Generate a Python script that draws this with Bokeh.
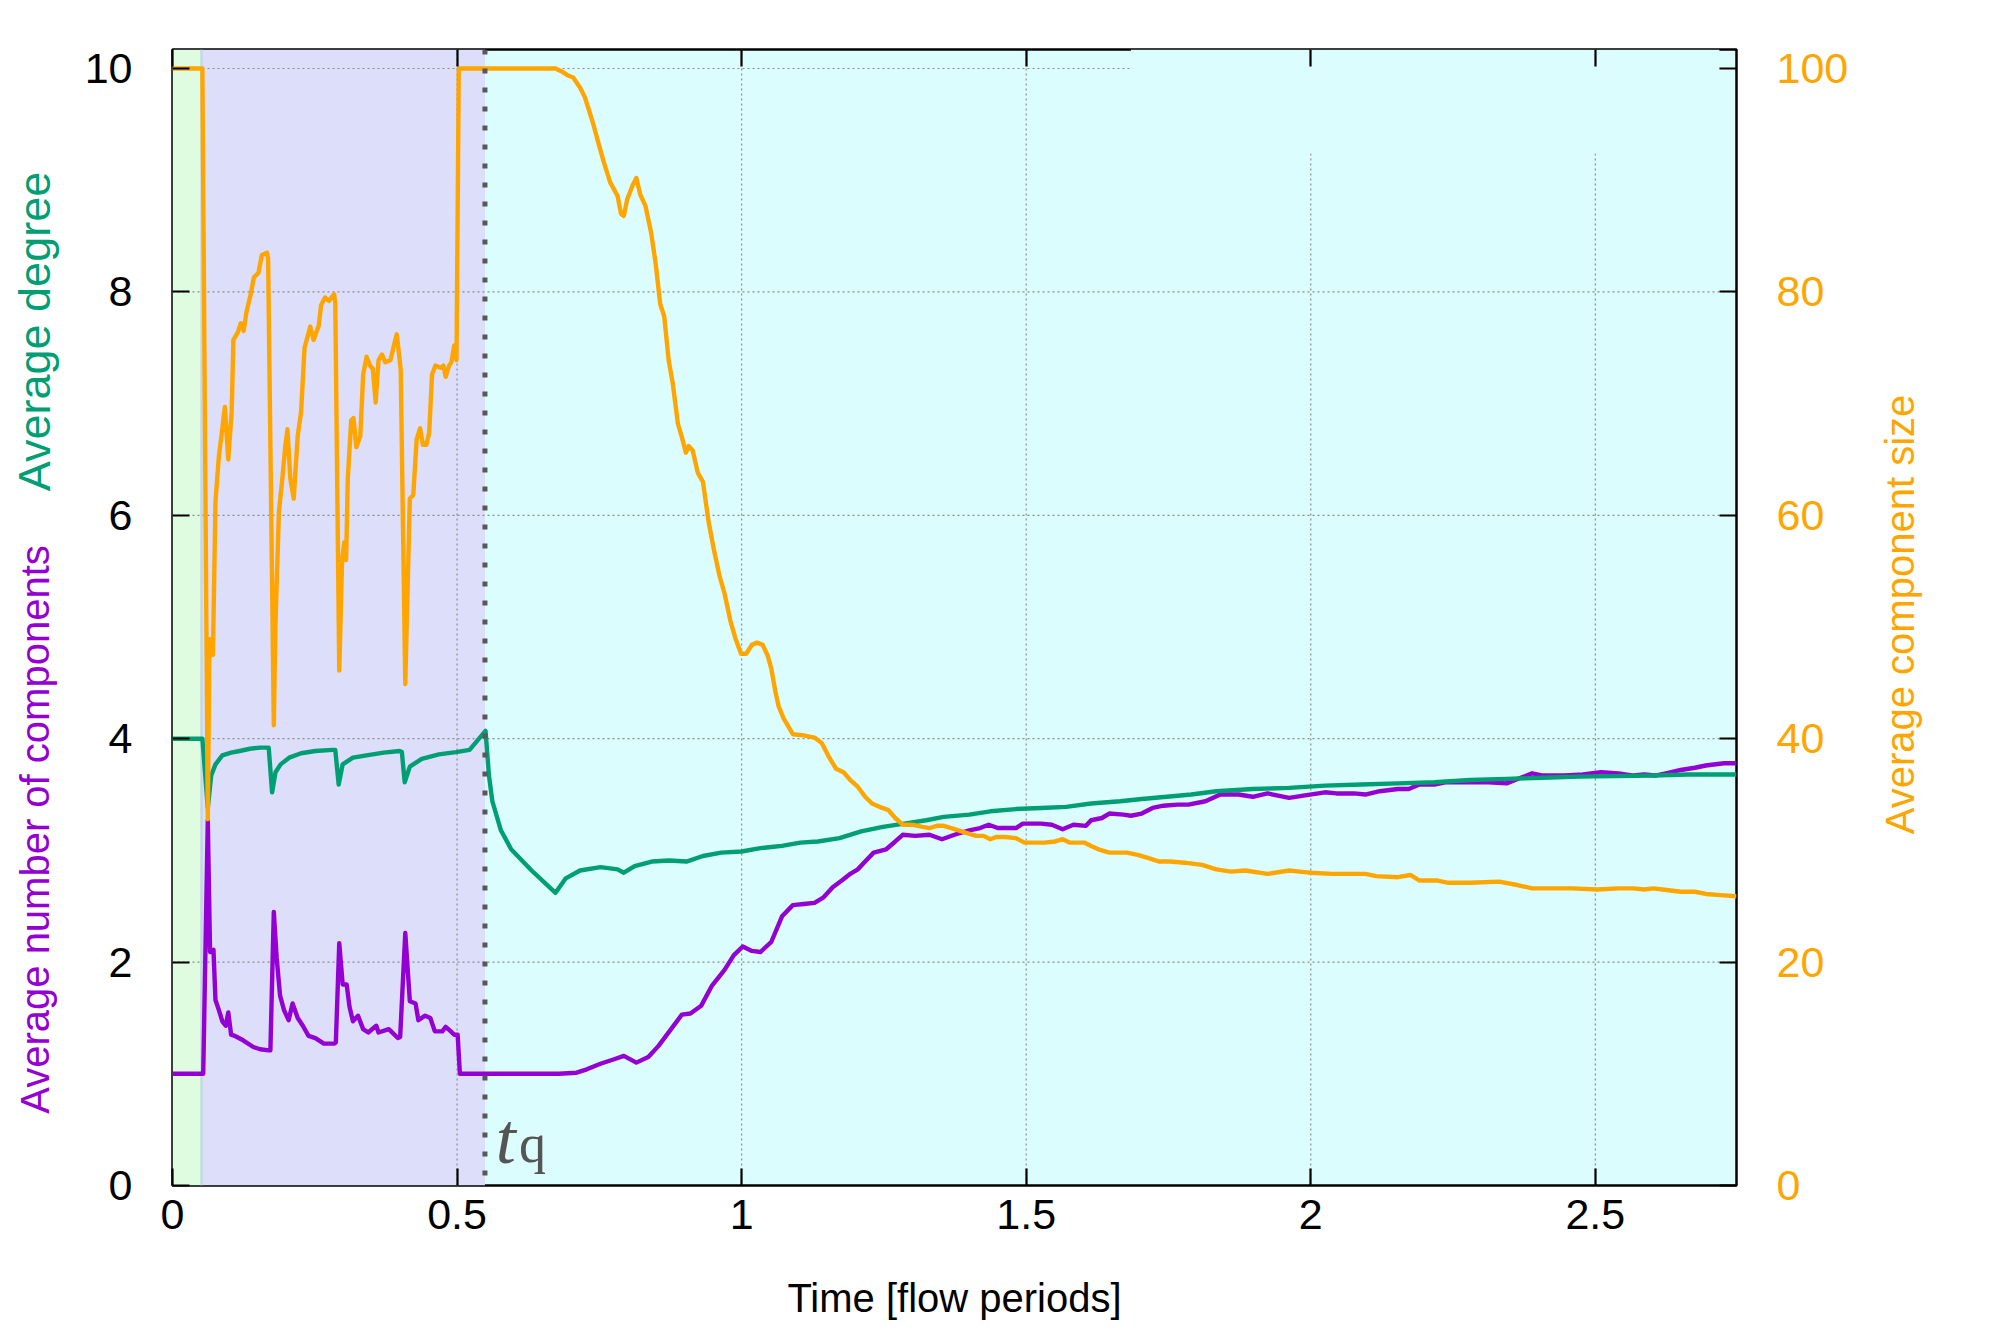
import math
from bokeh.plotting import figure
from bokeh.layouts import row
from bokeh.models import Range1d, LinearAxis, FixedTicker, Span, Label, NumeralTickFormatter
from bokeh.core.properties import value
from bokeh.embed import file_html
from bokeh.resources import INLINE

# ---------------- data ----------------
X_MAX = 2.748
Y_MAX = 10.17
SIZE_FACTOR = 10.0          # right axis = 10 x left axis
T_GROW_END = 0.051          # end of green phase
T_Q = 0.549                 # quench time t_q

X_TICKS = [0, 0.5, 1, 1.5, 2, 2.5]
Y_TICKS = [0, 2, 4, 6, 8, 10]
Y2_TICKS = [0, 20, 40, 60, 80, 100]

# Average number of components (purple, left axis)
T_COMP = [0, 0.054, 0.062, 0.066, 0.072, 0.0755, 0.0815, 0.0876, 0.0936, 0.098,
          0.103, 0.109, 0.124, 0.142, 0.154, 0.169, 0.172, 0.178, 0.183, 0.189,
          0.196, 0.204, 0.211, 0.220, 0.229, 0.239, 0.251, 0.266, 0.284, 0.287,
          0.293, 0.299, 0.306, 0.311, 0.317, 0.326, 0.335, 0.344, 0.358, 0.362,
          0.380, 0.396, 0.400, 0.409, 0.417, 0.427, 0.432, 0.444, 0.453, 0.461,
          0.474, 0.480, 0.489, 0.495, 0.501, 0.505, 0.679, 0.710, 0.728, 0.752,
          0.776, 0.793, 0.815, 0.836, 0.854, 0.876, 0.895, 0.910, 0.929, 0.948,
          0.970, 0.986, 1.002, 1.018, 1.033, 1.052, 1.071, 1.090, 1.109, 1.128,
          1.144, 1.160, 1.176, 1.191, 1.204, 1.217, 1.232, 1.254, 1.270, 1.283,
          1.305, 1.330, 1.352, 1.374, 1.400, 1.419, 1.434, 1.450, 1.482, 1.494,
          1.526, 1.545, 1.564, 1.583, 1.605, 1.614, 1.633, 1.646, 1.671, 1.684,
          1.703, 1.722, 1.741, 1.766, 1.785, 1.815, 1.841, 1.873, 1.898, 1.924,
          1.962, 1.987, 2.025, 2.045, 2.076, 2.096, 2.121, 2.153, 2.172, 2.191,
          2.217, 2.236, 2.268, 2.312, 2.344, 2.369, 2.389, 2.408, 2.446, 2.478,
          2.510, 2.541, 2.567, 2.586, 2.605, 2.624, 2.650, 2.675, 2.694, 2.726,
          2.748]
N_COMP = [1.0, 1.0, 3.27, 2.09, 2.11, 1.66, 1.57, 1.47, 1.43, 1.55,
          1.35, 1.34, 1.30, 1.24, 1.22, 1.21, 1.21, 2.45, 2.04, 1.70,
          1.57, 1.48, 1.63, 1.50, 1.43, 1.34, 1.32, 1.27, 1.27, 1.28,
          2.17, 1.80, 1.80, 1.60, 1.47, 1.52, 1.40, 1.37, 1.43, 1.37,
          1.40, 1.32, 1.33, 2.26, 1.65, 1.63, 1.48, 1.52, 1.50, 1.38,
          1.38, 1.42, 1.38, 1.35, 1.35, 1.0, 1.0, 1.01, 1.04, 1.09,
          1.13, 1.16, 1.10, 1.15, 1.25, 1.40, 1.53, 1.54, 1.61, 1.79,
          1.93, 2.06, 2.14, 2.10, 2.09, 2.18, 2.41, 2.51, 2.52, 2.53,
          2.58, 2.67, 2.73, 2.79, 2.83, 2.90, 2.98, 3.01, 3.08, 3.14,
          3.13, 3.14, 3.10, 3.14, 3.18, 3.20, 3.23, 3.20, 3.20, 3.24,
          3.24, 3.23, 3.19, 3.23, 3.22, 3.27, 3.29, 3.33, 3.32, 3.31,
          3.33, 3.38, 3.40, 3.41, 3.41, 3.44, 3.50, 3.50, 3.48, 3.51,
          3.47, 3.49, 3.52, 3.51, 3.51, 3.50, 3.53, 3.55, 3.55, 3.59,
          3.59, 3.61, 3.61, 3.61, 3.60, 3.65, 3.69, 3.67, 3.67, 3.68,
          3.70, 3.69, 3.67, 3.68, 3.67, 3.69, 3.72, 3.74, 3.76, 3.78,
          3.78]

# Average degree (green, left axis)
T_DEG = [0, 0.0525, 0.062, 0.068, 0.0755, 0.0876, 0.103, 0.118, 0.136, 0.154,
         0.169, 0.175, 0.181, 0.190, 0.205, 0.226, 0.251, 0.281, 0.286, 0.292,
         0.299, 0.317, 0.341, 0.371, 0.399, 0.403, 0.408, 0.417, 0.438, 0.468,
         0.498, 0.522, 0.550, 0.556, 0.562, 0.577, 0.595, 0.631, 0.673, 0.691,
         0.716, 0.752, 0.782, 0.793, 0.812, 0.842, 0.873, 0.903, 0.932, 0.964,
         1.0, 1.033, 1.052, 1.071, 1.103, 1.134, 1.172, 1.210, 1.248, 1.286,
         1.324, 1.355, 1.400, 1.437, 1.482, 1.526, 1.570, 1.614, 1.665, 1.703,
         1.747, 1.790, 1.834, 1.898, 1.962, 2.025, 2.089, 2.153, 2.217, 2.280,
         2.344, 2.408, 2.471, 2.535, 2.599, 2.662, 2.748]
DEG = [4.0, 4.0, 3.38, 3.67, 3.77, 3.85, 3.875, 3.89, 3.91, 3.92,
       3.92, 3.52, 3.70, 3.77, 3.83, 3.87, 3.89, 3.90, 3.90, 3.59,
       3.77, 3.83, 3.85, 3.875, 3.89, 3.88, 3.61, 3.75, 3.82, 3.86,
       3.88, 3.90, 4.07, 3.67, 3.44, 3.18, 3.01, 2.82, 2.62, 2.75,
       2.82, 2.85, 2.83, 2.80, 2.86, 2.90, 2.91, 2.90, 2.95, 2.98,
       2.99, 3.02, 3.03, 3.04, 3.07, 3.08, 3.11, 3.17, 3.21, 3.24,
       3.27, 3.30, 3.32, 3.35, 3.37, 3.38, 3.39, 3.42, 3.44, 3.46,
       3.48, 3.50, 3.53, 3.55, 3.56, 3.58, 3.59, 3.60, 3.61, 3.63,
       3.64, 3.65, 3.66, 3.665, 3.67, 3.68, 3.68]

# Average component size (orange, right axis)
T_SIZE = [0, 0.0525, 0.062, 0.065, 0.068, 0.071, 0.0755, 0.0815, 0.086, 0.092,
          0.098, 0.104, 0.107, 0.115, 0.120, 0.125, 0.130, 0.137, 0.143, 0.151,
          0.157, 0.166, 0.168, 0.178, 0.181, 0.187, 0.193, 0.198, 0.202, 0.207,
          0.213, 0.220, 0.226, 0.232, 0.242, 0.248, 0.257, 0.261, 0.268, 0.275,
          0.284, 0.286, 0.293, 0.298, 0.302, 0.305, 0.308, 0.314, 0.318, 0.323,
          0.330, 0.335, 0.341, 0.347, 0.352, 0.357, 0.362, 0.368, 0.374, 0.383,
          0.390, 0.394, 0.399, 0.401, 0.409, 0.417, 0.423, 0.429, 0.435, 0.440,
          0.446, 0.451, 0.456, 0.462, 0.471, 0.476, 0.480, 0.486, 0.490, 0.495,
          0.499, 0.503, 0.673, 0.685, 0.694, 0.704, 0.716, 0.724, 0.731, 0.740,
          0.749, 0.758, 0.769, 0.782, 0.788, 0.793, 0.799, 0.809, 0.815, 0.822,
          0.831, 0.841, 0.849, 0.857, 0.864, 0.872, 0.879, 0.888, 0.895, 0.902,
          0.907, 0.914, 0.923, 0.932, 0.942, 0.951, 0.961, 0.970, 0.980, 0.989,
          0.999, 1.008, 1.018, 1.027, 1.037, 1.046, 1.052, 1.059, 1.065, 1.074,
          1.090, 1.109, 1.128, 1.141, 1.153, 1.166, 1.179, 1.191, 1.204, 1.217,
          1.229, 1.242, 1.258, 1.270, 1.283, 1.299, 1.318, 1.330, 1.343, 1.355,
          1.374, 1.393, 1.412, 1.425, 1.437, 1.447, 1.463, 1.482, 1.497, 1.513,
          1.532, 1.551, 1.564, 1.576, 1.602, 1.614, 1.627, 1.646, 1.665, 1.677,
          1.696, 1.715, 1.734, 1.753, 1.778, 1.809, 1.834, 1.860, 1.885, 1.924,
          1.962, 1.981, 2.000, 2.038, 2.076, 2.096, 2.115, 2.153, 2.175, 2.191,
          2.223, 2.242, 2.280, 2.331, 2.363, 2.389, 2.420, 2.459, 2.503, 2.541,
          2.567, 2.586, 2.602, 2.618, 2.650, 2.675, 2.694, 2.720, 2.748]
SIZE = [100, 100, 32.8, 48.9, 48.5, 47.5, 61.2, 65.3, 67.1, 69.7,
        65.0, 69.3, 75.7, 76.4, 77.2, 76.5, 78.2, 79.7, 81.3, 81.7,
        83.3, 83.5, 83.0, 41.2, 50.5, 60.3, 63.3, 66.1, 67.7, 63.3,
        61.5, 67.1, 69.3, 75.0, 76.9, 75.7, 77.0, 78.8, 79.5, 79.2,
        79.8, 79.0, 46.1, 56.0, 57.6, 56.0, 63.3, 68.5, 68.7, 66.1,
        67.1, 72.6, 74.2, 73.4, 73.1, 70.1, 73.9, 74.4, 73.7, 73.9,
        75.4, 76.2, 74.0, 73.0, 44.9, 61.5, 61.8, 66.8, 67.8, 66.3,
        66.3, 67.4, 72.6, 73.4, 73.2, 73.4, 72.4, 73.4, 73.7, 75.2,
        73.9, 100, 100, 99.7, 99.4, 99.2, 98.3, 97.5, 96.4, 94.9,
        93.2, 91.6, 89.8, 88.6, 87.0, 86.8, 88.3, 89.6, 90.2, 88.7,
        87.7, 85.3, 82.5, 78.9, 77.8, 73.8, 71.8, 68.2, 67.0, 65.6,
        66.2, 65.8, 63.8, 63.0, 59.4, 57.0, 54.6, 53.0, 50.6, 49.0,
        47.6, 47.6, 48.4, 48.6, 48.4, 47.4, 46.3, 44.3, 42.9, 41.8,
        40.4, 40.3, 40.1, 39.6, 38.4, 37.3, 37.0, 36.3, 35.7, 34.8,
        34.2, 33.9, 33.6, 32.9, 32.3, 32.3, 32.1, 32.0, 32.2, 32.2,
        31.9, 31.6, 31.3, 31.3, 31.0, 31.2, 31.2, 31.1, 30.7, 30.7,
        30.7, 30.8, 31.0, 30.7, 30.7, 30.4, 30.1, 29.8, 29.8, 29.8,
        29.6, 29.3, 29.0, 29.0, 28.9, 28.7, 28.3, 28.1, 28.2, 27.9,
        28.2, 28.1, 28.0, 27.9, 27.9, 27.9, 27.7, 27.6, 27.8, 27.3,
        27.3, 27.1, 27.1, 27.2, 26.9, 26.6, 26.6, 26.6, 26.5, 26.6,
        26.6, 26.5, 26.6, 26.5, 26.3, 26.3, 26.1, 26.0, 25.9]

assert len(T_COMP) == len(N_COMP), (len(T_COMP), len(N_COMP))
assert len(T_DEG) == len(DEG), (len(T_DEG), len(DEG))
assert len(T_SIZE) == len(SIZE), (len(T_SIZE), len(SIZE))

# ---------------- styling ----------------
PURPLE = "#9400D3"
GREEN = "#009E73"
ORANGE = "#FFA500"
BG_GREEN = "#e0fce0"
BG_LAV = "#dddefa"
BG_CYAN = "#dcfdfd"
GRID = "#8c8c8c"
TQ_GRAY = "#585858"
FONT = "Liberation Sans"

TOTAL_W, TOTAL_H = 1992, 1334
LEFT_W, RIGHT_W = 62, 126
MAIN_W = TOTAL_W - LEFT_W - RIGHT_W
BORDER_TOP, BORDER_BOTTOM = 49, 149

p = figure(width=MAIN_W, height=TOTAL_H, output_backend="svg", toolbar_location=None,
           x_range=Range1d(0, X_MAX), y_range=Range1d(0, Y_MAX),
           min_border_left=110, min_border_right=130, min_border_top=BORDER_TOP,
           min_border_bottom=BORDER_BOTTOM, background_fill_color=BG_CYAN,
           border_fill_color="white", outline_line_color="black",
           outline_line_width=2.5)
p.extra_y_ranges = {"size": Range1d(0, Y_MAX * SIZE_FACTOR)}
p.xgrid.visible = False
p.ygrid.visible = False

# phase backgrounds
p.quad(left=[0, T_GROW_END], right=[T_GROW_END, T_Q], bottom=[0, 0],
       top=[Y_MAX, Y_MAX], fill_color=[BG_GREEN, BG_LAV], line_color=None)
p.segment(x0=[T_GROW_END], y0=[0], x1=[T_GROW_END], y1=[Y_MAX],
          line_color="#c4d8e4", line_width=2.5)

# dotted grid
gx = X_TICKS[1:]
gy = Y_TICKS[1:]
p.segment(x0=gx, y0=[0] * len(gx), x1=gx, y1=[Y_MAX] * len(gx),
          line_color=GRID, line_width=1.2, line_dash="2 3")
p.segment(x0=[0] * len(gy), y0=gy, x1=[X_MAX] * len(gy), y1=gy,
          line_color=GRID, line_width=1.2, line_dash="2 3")
# blank (invisible key) area in the top right that hides the grid
p.quad(left=[1.684], right=[2.718], bottom=[9.24], top=[Y_MAX],
       fill_color=BG_CYAN, line_color=None)

# data
p.line(T_COMP, N_COMP, line_color=PURPLE, line_width=4.4, line_join="round")
p.line(T_DEG, DEG, line_color=GREEN, line_width=4.4, line_join="round")
p.line(T_SIZE, SIZE, y_range_name="size", line_color=ORANGE, line_width=4.4,
       line_join="round")

# t_q marker
p.add_layout(Span(location=T_Q, dimension="height", line_color=TQ_GRAY,
                  line_width=5, line_dash="5 14"))
p.add_layout(Label(x=T_Q + 0.019, y=0.42, text="t", text_font="Liberation Serif",
                   text_font_style="italic", text_font_size="72px",
                   text_color="#555555", text_align="left",
                   text_baseline="alphabetic"))
p.add_layout(Label(x=T_Q + 0.060, y=0.37, text="q", text_font="Liberation Serif",
                   text_font_size="54px", text_color="#555555",
                   text_align="left", text_baseline="alphabetic"))


def style_axis(ax, color, standoff):
    ax.axis_line_color = None
    ax.major_tick_in = 17
    ax.major_tick_out = 0
    ax.major_tick_line_color = "black"
    ax.major_tick_line_width = 2.2
    ax.minor_tick_line_color = None
    ax.major_label_text_font = FONT
    ax.major_label_text_font_size = "43px"
    ax.major_label_text_color = color
    ax.major_label_standoff = standoff


xa = p.xaxis[0]
xa.ticker = FixedTicker(ticks=X_TICKS)
xa.formatter = NumeralTickFormatter(format="0.[0]")
style_axis(xa, "black", 14)
xa.axis_label = "Time [flow periods]"
xa.axis_label_text_font = FONT
xa.axis_label_text_font_size = "40px"
xa.axis_label_text_font_style = "normal"
xa.axis_label_text_color = "black"
xa.axis_label_standoff = 44

ya = p.yaxis[0]
ya.ticker = FixedTicker(ticks=Y_TICKS)
style_axis(ya, "black", 40)

ra = LinearAxis(y_range_name="size", ticker=FixedTicker(ticks=Y2_TICKS))
style_axis(ra, ORANGE, 40)
p.add_layout(ra, "right")

ta = LinearAxis(ticker=FixedTicker(ticks=X_TICKS))
style_axis(ta, "black", 0)
ta.major_label_text_font_size = "1px"
ta.major_label_text_alpha = 0
p.add_layout(ta, "above")


# side panels holding the rotated, colour-coded axis titles.
# (row() aligns their frames with the main frame, so their y range is the
#  canvas pixel span of that frame, measured upwards from the page bottom)
def side_panel(w):
    f = figure(width=w, height=TOTAL_H, output_backend="svg", toolbar_location=None,
               x_range=Range1d(0, w),
               y_range=Range1d(BORDER_BOTTOM, TOTAL_H - BORDER_TOP),
               x_axis_location=None, y_axis_location=None, min_border=0,
               min_border_top=BORDER_TOP, min_border_bottom=BORDER_BOTTOM,
               outline_line_color=None, background_fill_color="white",
               border_fill_color="white")
    f.xgrid.visible = False
    f.ygrid.visible = False
    return f


def vtitle(f, x, y, text, color, size):
    f.text(x=[x], y=[y], text=[text], angle=math.pi / 2, text_align="center",
           text_baseline="middle", text_font=value(FONT), text_font_size=size,
           text_color=color)


lf = side_panel(LEFT_W)
vtitle(lf, 34, TOTAL_H - 331, "Average degree", GREEN, "45px")
vtitle(lf, 34, TOTAL_H - 829, "Average number of components", PURPLE, "40px")

rf = side_panel(RIGHT_W)
vtitle(rf, 1899 - (LEFT_W + MAIN_W), TOTAL_H - 614, "Average component size",
       ORANGE, "40px")

layout = row(lf, p, rf, spacing=0)
open("out.html", "w").write(file_html(layout, INLINE))
